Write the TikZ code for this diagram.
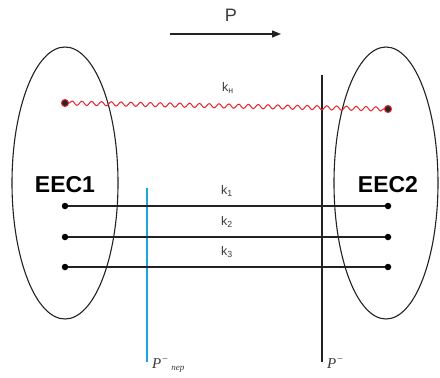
\documentclass[tikz,border=0pt]{standalone}
\usepackage{fontspec}
\setmainfont{Liberation Sans}
\newfontfamily\serifcyr{Liberation Serif}
\usetikzlibrary{shapes.geometric,decorations.pathmorphing,arrows.meta}
\definecolor{txtgray}{HTML}{3A3A3A}
\definecolor{linegray}{HTML}{222222}
\definecolor{wavered}{HTML}{E8232A}
\definecolor{cyanline}{HTML}{1AA7E0}
\tikzset{
  eec/.style={ellipse,draw=linegray,line width=1.1pt,minimum width=106pt,minimum height=272pt,inner sep=0pt},
  dotn/.style={circle,fill=black,inner sep=0pt,minimum size=6.5pt},
  reddot/.style={circle,fill=black!85,draw=wavered,line width=1pt,inner sep=0pt,minimum size=7pt},
  kline/.style={linegray,line width=1.5pt},
  klabel/.style={text=txtgray,font=\fontsize{12.5}{14}\selectfont,inner sep=0pt},
  eeclabel/.style={text=black,font=\fontsize{23}{26}\selectfont\bfseries,inner sep=0pt},
  wave/.style={wavered,line width=1pt,decorate,decoration={snake,segment length=9.8pt,amplitude=2.1pt}},
  vline/.style={linegray,line width=1.6pt},
  bline/.style={cyanline,line width=2pt},
  plabel/.style={text=txtgray,font=\serifcyr\itshape\fontsize{15}{17}\selectfont,inner sep=0pt,anchor=base west}
}
\begin{document}
\begin{tikzpicture}[x=1pt,y=-1pt]
\useasboundingbox (0,0) rectangle (440,378);
% ellipses
\node[eec] (E1) at (65,183) {};
\node[eec,minimum width=104pt] (E2) at (386,183) {};
% top arrow
\coordinate (pa) at (170,34);
\coordinate (pb) at (281,34);
\draw[linegray,line width=1.4pt,-{Triangle[length=9pt,width=7pt]}] (pa) -- (pb);
\node[text=txtgray,font=\fontsize{18}{20}\selectfont,inner sep=0pt] (P) at (231,15) {P};
% vertical lines
\coordinate (vt) at (322,75);
\coordinate (vb) at (322,362);
\draw[vline] (vt) -- (vb);
\coordinate (bt) at (147,188);
\coordinate (bb) at (147,362);
\draw[bline] (bt) -- (bb);
% wavy line
\node[reddot] (wl) at (65,103) {};
\node[reddot] (wr) at (388,109) {};
\draw[wave] (wl) -- (wr);
\node[klabel] (kn) at (228,88) {k\textsubscript{н}};
% k lines
\node[dotn] (a1) at (65,206) {};
\node[dotn] (b1) at (388,206) {};
\node[dotn] (a2) at (65,237) {};
\node[dotn] (b2) at (388,237) {};
\node[dotn] (a3) at (65,267) {};
\node[dotn] (b3) at (388,267) {};
\draw[kline] (a1) -- (b1);
\draw[kline] (a2) -- (b2);
\draw[kline] (a3) -- (b3);
\node[klabel] (k1) at (227,191) {k\textsubscript{1}};
\node[klabel] (k2) at (227,222) {k\textsubscript{2}};
\node[klabel] (k3) at (227,252) {k\textsubscript{3}};
% EEC labels
\node[eeclabel] (L1) at (65,185) {EEC1};
\node[eeclabel] (L2) at (388,185) {EEC2};
% P labels
\node[plabel] (pm1) at (152,368) {P\textsuperscript{−}\,\raisebox{-2pt}{\fontsize{9}{10}\selectfont пер}};
\node[plabel] (pm2) at (327,368) {P\textsuperscript{−}};
\end{tikzpicture}
\end{document}
